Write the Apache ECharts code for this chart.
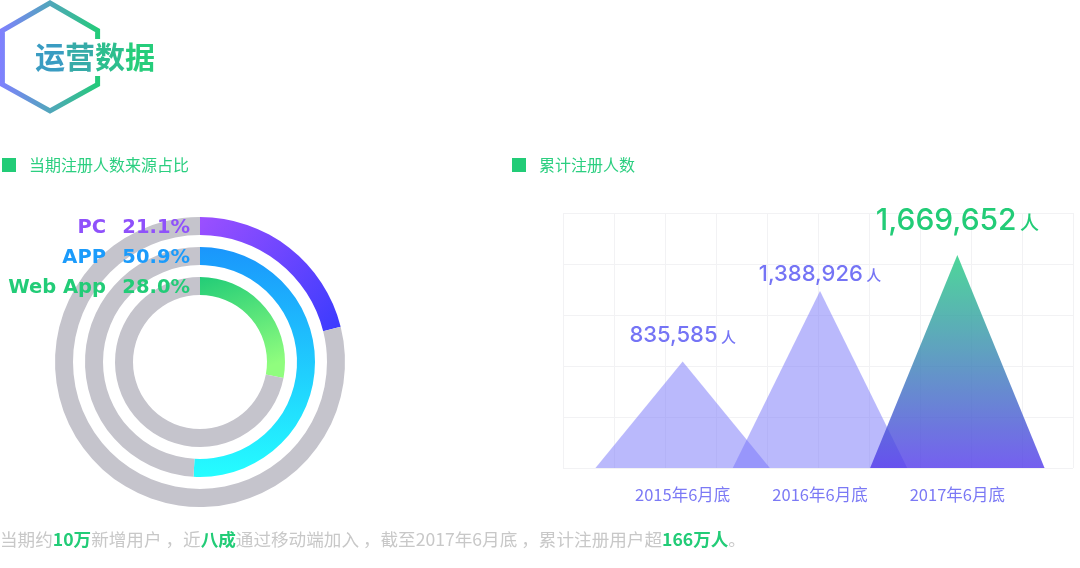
<!DOCTYPE html>
<html><head><meta charset="utf-8">
<script src="https://cdn.jsdelivr.net/npm/echarts@6/dist/echarts.min.js"></script>
<style>html,body{margin:0;padding:0;background:#fff}#c{width:1080px;height:568px}</style>
</head><body><div id="c"></div>
<script>
// ---- data ----
const pageTitle = ['运', '营', '数', '据'];
const leftTitle = '当期注册人数来源占比';
const rightTitle = '累计注册人数';
const sourceNames = ['PC', 'APP', 'Web App'];
const sourceShares = [21.1, 50.9, 28.0];
const years = ['2015年6月底', '2016年6月底', '2017年6月底'];
const totals = [835585, 1388926, 1669652];
const unit = '人';
const yAxisMax = 2000000;
const noteParts = [
  ['n', '当期约'], ['g', '10万'], ['n', '新增用户 ，近'], ['g', '八成'],
  ['n', '通过移动端加入 ，截至2017年6月底 ，累计注册用户超'], ['g', '166万人'], ['n', '。']
];

// ---- styles ----
const G = echarts.graphic;
const green = '#22cc77';
const ringGray = '#c5c4cc';
const ringRadii = [[127, 145], [97, 115], [67, 85]];
const ringColors = [
  new G.LinearGradient(0, 0, 1, 1, [{offset: 0, color: '#9c50ff'}, {offset: 1, color: '#3a3bfe'}]),
  new G.LinearGradient(0, 0, 0, 1, [{offset: 0, color: '#1a96fc'}, {offset: 1, color: '#25fdff'}]),
  new G.LinearGradient(0, 0, 0.4, 1, [{offset: 0, color: '#22cc77'}, {offset: 1, color: '#90fd7e'}])
];
const labelColors = ['#8f51fb', '#1b9bfb', '#22cc77'];
const titleColors = ['#3a9cc2', '#36aba8', '#2dbe8e', '#25cd7b'];
const center = [200, 362];
const pieLabelFont = 'bold 19.5px "DejaVu Sans"';

const pieSeries = sourceNames.map((name, i) => ({
  type: 'pie',
  radius: ringRadii[i],
  center: center,
  startAngle: 90,
  silent: true,
  z: 1,
  label: {show: false},
  labelLine: {show: false},
  data: [
    {name: name, value: sourceShares[i], itemStyle: {color: ringColors[i]}},
    {name: 'rest', value: +(100 - sourceShares[i]).toFixed(1), itemStyle: {color: ringGray}}
  ]
}));

const pieLabels = [];
sourceNames.forEach((name, i) => {
  const y = center[1] - (ringRadii[i][0] + ringRadii[i][1]) / 2 + 1.5;
  pieLabels.push({type: 'text', x: 106, y: y, z: 100, style: {text: name, fill: labelColors[i], font: pieLabelFont, textAlign: 'right', textVerticalAlign: 'middle'}});
  pieLabels.push({type: 'text', x: 190, y: y, z: 100, style: {text: sourceShares[i].toFixed(1) + '%', fill: labelColors[i], font: pieLabelFont, textAlign: 'right', textVerticalAlign: 'middle'}});
});

const barColors = [
  'rgba(118,116,249,0.5)',
  'rgba(118,116,249,0.5)',
  new G.LinearGradient(0, 0, 0, 1, [{offset: 0, color: 'rgba(34,204,128,0.8)'}, {offset: 1, color: 'rgba(82,56,235,0.8)'}])
];
const labelStyles = [
  {color: '#7574f5', big: 22, small: 15, dist: 15},
  {color: '#7574f5', big: 22, small: 15, dist: 6},
  {color: green, big: 30, small: 19, dist: 19}
];

const noteRich = {
  n: {fill: '#c8c8c8', fontSize: 17.6, fontFamily: 'Noto Sans CJK SC'},
  g: {fill: green, fontSize: 17.6, fontWeight: 'bold', fontFamily: 'Noto Sans CJK SC'}
};
const titleRich = {};
pageTitle.forEach((ch, i) => { titleRich['t' + i] = {fill: titleColors[i], fontSize: 30, fontWeight: 'bold', fontFamily: 'Noto Sans CJK SC'}; });

const option = {
  animation: false,
  backgroundColor: '#fff',
  grid: [
    {left: 563, right: 7, top: 213, height: 255},
    {left: 614, width: 412, top: 213, height: 255}
  ],
  xAxis: [
    {gridIndex: 0, type: 'value', min: 0, max: 10, interval: 1, axisLabel: {show: false}, axisLine: {show: false}, axisTick: {show: false},
      splitLine: {show: true, lineStyle: {color: '#f2f2f4'}}},
    {gridIndex: 1, type: 'category', data: years, axisLine: {show: false}, axisTick: {show: false},
      axisLabel: {color: '#7b79f5', fontSize: 16.5, margin: 18, fontFamily: 'Noto Sans CJK SC'}}
  ],
  yAxis: [
    {gridIndex: 0, type: 'value', min: 0, max: 5, interval: 1, axisLabel: {show: false}, axisLine: {show: false}, axisTick: {show: false},
      splitLine: {show: true, lineStyle: {color: '#f2f2f4'}}},
    {gridIndex: 1, type: 'value', min: 0, max: yAxisMax, show: false, splitLine: {show: false}}
  ],
  series: pieSeries.concat([{
    type: 'pictorialBar',
    xAxisIndex: 1, yAxisIndex: 1,
    symbol: 'path://M0,10 L10,10 L5,0 L0,10 z',
    barCategoryGap: '-27%',
    silent: true,
    data: totals.map((v, i) => ({
      value: v,
      itemStyle: {color: barColors[i]},
      label: {
        show: true, position: 'top', distance: labelStyles[i].dist,
        formatter: p => '{a|' + p.value.toLocaleString('en-US') + '} {b|' + unit + '}',
        rich: {
          a: {color: labelStyles[i].color, fontSize: labelStyles[i].big, fontFamily: 'Inter', fontWeight: 500},
          b: {color: labelStyles[i].color, fontSize: labelStyles[i].small, fontFamily: 'Noto Sans CJK SC', fontWeight: 500, padding: [3, 0, 0, 0]}
        }
      }
    }))
  }]),
  graphic: [
    {type: 'polygon', z: 1, shape: {points: [[50, 3], [97.6, 30.5], [97.6, 84.5], [50, 111], [2.4, 84.5], [2.4, 30.5]]},
      style: {fill: 'none', stroke: new G.LinearGradient(0, 0, 1, 0, [{offset: 0, color: '#8080ff'}, {offset: 1, color: '#22cc77'}]), lineWidth: 5}},
    {type: 'rect', z: 2, shape: {x: 30, y: 39, width: 132, height: 37}, style: {fill: '#fff'}},
    {type: 'text', x: 35, y: 57, z: 3, style: {text: pageTitle.map((ch, i) => '{t' + i + '|' + ch + '}').join(''), rich: titleRich, textVerticalAlign: 'middle'}},
    {type: 'rect', shape: {x: 2, y: 158, width: 14, height: 14}, style: {fill: green}},
    {type: 'text', x: 29, y: 165, style: {text: leftTitle, font: '16px "Noto Sans CJK SC"', fill: '#2ccf80', textVerticalAlign: 'middle'}},
    {type: 'rect', shape: {x: 512, y: 158, width: 14, height: 14}, style: {fill: green}},
    {type: 'text', x: 539, y: 165, style: {text: rightTitle, font: '16px "Noto Sans CJK SC"', fill: '#2ccf80', textVerticalAlign: 'middle'}},
    {type: 'text', x: 0, y: 539, style: {
      text: noteParts.map(p => '{' + p[0] + '|' + p[1] + '}').join(''),
      rich: noteRich, textVerticalAlign: 'middle'}}
  ].concat(pieLabels)
};

const chart = echarts.init(document.getElementById('c'), null, {renderer: 'canvas'});
chart.setOption(option);
</script>
</body></html>
